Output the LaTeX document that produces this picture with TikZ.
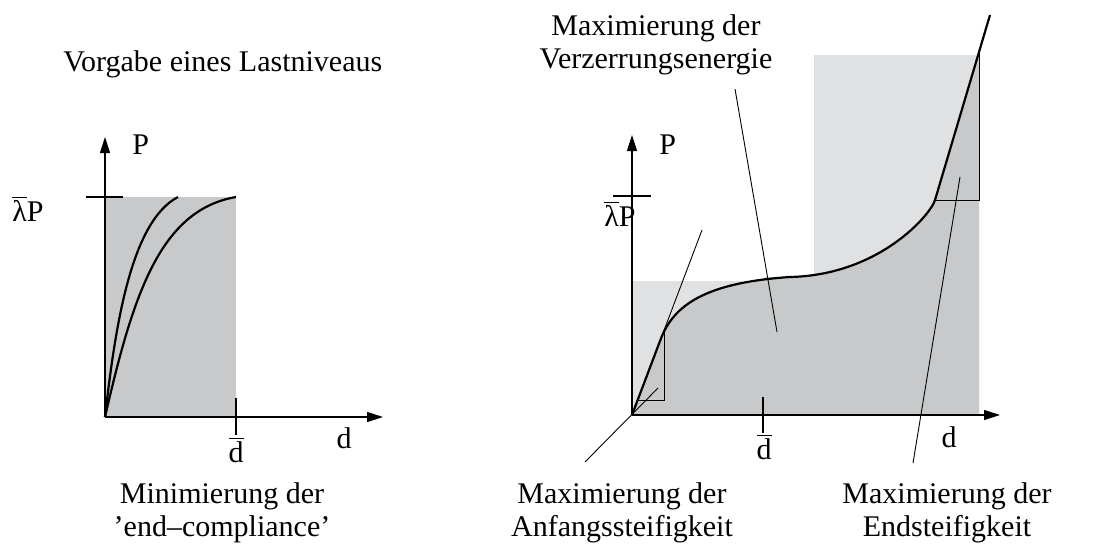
\documentclass[tikz,border=0pt]{standalone}
\usepackage{fontspec}
\setmainfont{Liberation Serif}
\usetikzlibrary{arrows.meta}

\definecolor{areagray}{RGB}{200,201,203}
\definecolor{boxgray}{RGB}{224,225,227}
\newcommand{\barlabel}[1]{$\overline{\mbox{#1}}$}

\begin{document}
\begin{tikzpicture}[
    x=0.5pt, y=-0.5pt,
    every node/.style={font=\fontsize{15}{16.5}\selectfont, inner sep=0pt},
    caption/.style={align=center, anchor=north},
    axis/.style={line width=0.55pt, -{Triangle[length=8pt,width=5pt]}},
    curve/.style={line width=1.1pt},
    leader/.style={line width=0.45pt},
    tickline/.style={line width=0.55pt}
]
\useasboundingbox (0,0) rectangle (1101,547);

% Left diagram
\coordinate (O1) at (105,417);
\coordinate (Y1) at (105,137);
\coordinate (X1) at (383,417);
\coordinate (A1) at (178,197);
\coordinate (B1) at (236,197);

\fill[areagray] (O1) rectangle (B1);
\draw[axis] (O1) -- (Y1);
\draw[axis] (O1) -- (X1);
\draw[curve] (O1) .. controls (115,330) and (130,222) .. (A1);
\draw[curve] (O1) .. controls (133,295) and (160,210) .. (B1);

\draw[tickline] (86,197) -- (123,197);
\draw[tickline] (236,398) -- (236,435);

\node[anchor=base west] (lamleft) at (12,221) {\barlabel{λ}P};
\node[anchor=base west] (pleft) at (132,154) {P};
\node[anchor=base] (dbarleft) at (236,462) {\barlabel{d}};
\node[anchor=base] (dleft) at (344,448) {d};

\node[anchor=base west] (title) at (63,71) {Vorgabe eines Lastniveaus};
\node[caption] (minleft) at (222,482) {Minimierung der\\'end--compliance'};

% Right diagram
\coordinate (O2) at (632,415);
\coordinate (Y2) at (632,135);
\coordinate (X2) at (1000,415);
\coordinate (R1) at (660,341);
\coordinate (R2) at (790,277);
\coordinate (R3) at (935,200);
\coordinate (R4) at (990,15);

\fill[boxgray] (O2) -- (632,281) -- (763,281) -- (763,277) -- (814,277)
    -- (814,55) -- (979,55) -- (979,415) -- cycle;
\begin{scope}
    \clip (632,0) rectangle (979,415);
    \fill[areagray] (O2) -- (R1) .. controls (672,308) and (700,283) .. (R2)
        .. controls (880,275) and (931,214) .. (R3) -- (R4) -- (1000,415) -- cycle;
\end{scope}

\draw[axis] (O2) -- (Y2);
\draw[axis] (O2) -- (X2);
\draw[curve] (O2) -- (R1) .. controls (672,308) and (700,283) .. (R2)
    .. controls (880,275) and (931,214) .. (R3) -- (R4);

% slope triangles
\draw[leader] (637,400) -- (664,400) -- (664,330);
\draw[leader] (R3) -- (979,200) -- (979,53);

\draw[tickline] (613,196) -- (651,196);
\draw[tickline] (763,397) -- (763,433);

\node[anchor=base west] (lamright) at (604,226) {\barlabel{λ}P};
\node[anchor=base west] (pright) at (659,154) {P};
\node[anchor=base] (dbarright) at (764,459) {\barlabel{d}};
\node[anchor=base] (dright) at (949,447) {d};

\node[caption] (maxenergy) at (656,14) {Maximierung der\\Verzerrungsenergie};
\node[caption] (maxinit) at (622,482) {Maximierung der\\Anfangssteifigkeit};
\node[caption] (maxend) at (947,482) {Maximierung der\\Endsteifigkeit};

% leader lines
\coordinate (tanend) at (702,230);
\coordinate (l1a) at (585,462);
\coordinate (l1b) at (658,388);
\coordinate (l2a) at (735,89);
\coordinate (l2b) at (777,332);
\coordinate (l3a) at (913,463);
\coordinate (l3b) at (960,177);

\draw[leader] (O2) -- (tanend);
\draw[leader] (l1a) -- (l1b);
\draw[leader] (l2a) -- (l2b);
\draw[leader] (l3a) -- (l3b);

\end{tikzpicture}
\end{document}
